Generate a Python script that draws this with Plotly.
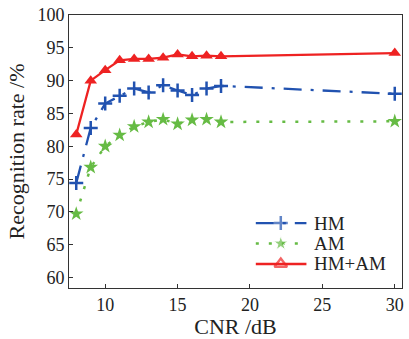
import plotly.graph_objects as go

cnr = [8, 9, 10, 11, 12, 13, 14, 15, 16, 17, 18, 30]
hm = [74.4, 82.8, 86.5, 87.7, 88.8, 88.2, 89.3, 88.5, 87.8, 88.8, 89.2, 88.0]
am = [69.7, 76.8, 80.0, 81.7, 83.0, 83.7, 84.1, 83.4, 84.0, 84.1, 83.7, 83.8]
hmam = [81.8, 90.0, 91.6, 93.1, 93.3, 93.3, 93.5, 94.0, 93.7, 93.8, 93.7, 94.2]
series_names = ["HM", "AM", "HM+AM"]
x_ticks = [10, 15, 20, 25, 30]
y_ticks = [60, 65, 70, 75, 80, 85, 90, 95, 100]

BLUE = "#2152b0"
GREEN = "#66bb44"
RED = "#ee2222"
FONT = "Liberation Serif"

styles = [
    dict(line=dict(color=BLUE, width=2.3, dash="18px,9px,3px,9px"),
         marker=dict(symbol="cross-thin", size=10, line=dict(color=BLUE, width=2.5))),
    dict(line=dict(color=GREEN, width=2.5, dash="3px,10px"),
         marker=dict(symbol="star", size=11, color=GREEN)),
    dict(line=dict(color=RED, width=2.3),
         marker=dict(symbol="triangle-up", size=11, color=RED)),
]
legend_markers = [
    dict(symbol="cross-thin", line=dict(color=BLUE, width=2.5)),
    dict(symbol="star", color=GREEN),
    dict(symbol="triangle-up-open", color=RED, line=dict(color=RED, width=2.3)),
]

fig = go.Figure()
for name, ys, st in zip(series_names, [hm, am, hmam], styles):
    fig.add_trace(go.Scatter(x=cnr, y=ys, mode="lines+markers", name=name,
                             line=st["line"], marker=st["marker"], showlegend=False))

# manual legend (paper-like overlay axes)
LEG_X0, LEG_XM, LEG_X1, LEG_TX = 0.561, 0.636, 0.713, 0.731
LEG_Y = [0.238, 0.163, 0.088]
for name, st, lm, ly in zip(series_names, styles, legend_markers, LEG_Y):
    mk = dict(lm)
    mk["size"] = [0, st["marker"]["size"], 0]
    fig.add_trace(go.Scatter(x=[LEG_X0, LEG_XM, LEG_X1], y=[ly, ly, ly],
                             xaxis="x2", yaxis="y2", mode="lines+markers",
                             line=st["line"], marker=mk, showlegend=False,
                             hoverinfo="skip"))
    fig.add_annotation(x=LEG_TX, y=ly, xref="x2", yref="y2", text=name,
                       showarrow=False, xanchor="left", yanchor="middle",
                       font=dict(family=FONT, size=19, color="#222"))

fig.update_layout(
    width=409, height=339,
    margin=dict(l=69, r=5, t=11, b=48),
    paper_bgcolor="white", plot_bgcolor="white",
    font=dict(family=FONT, size=18, color="#222"),
    showlegend=False,
    xaxis2=dict(overlaying="x", range=[0, 1], visible=False),
    yaxis2=dict(overlaying="y", range=[0, 1], visible=False),
)
fig.update_xaxes(selector=dict(anchor="y"))
fig.update_layout(
    xaxis=dict(range=[7.5, 30.5], tickvals=x_ticks, ticks="inside", ticklen=4,
               tickcolor="#333", showline=True, linecolor="#333", linewidth=1,
               mirror=True, showgrid=False, zeroline=False,
               title=dict(text="CNR /dB", standoff=4)),
    yaxis=dict(range=[58.4, 100], tickvals=y_ticks, ticks="inside", ticklen=4,
               tickcolor="#333", showline=True, linecolor="#333", linewidth=1,
               mirror=True, showgrid=False, zeroline=False,
               title=dict(text="Recognition rate /%", standoff=6)),
)

fig.write_html("out.html", config={"displayModeBar": False},
               post_script="document.body.style.margin='0px';document.body.style.overflow='hidden';")
